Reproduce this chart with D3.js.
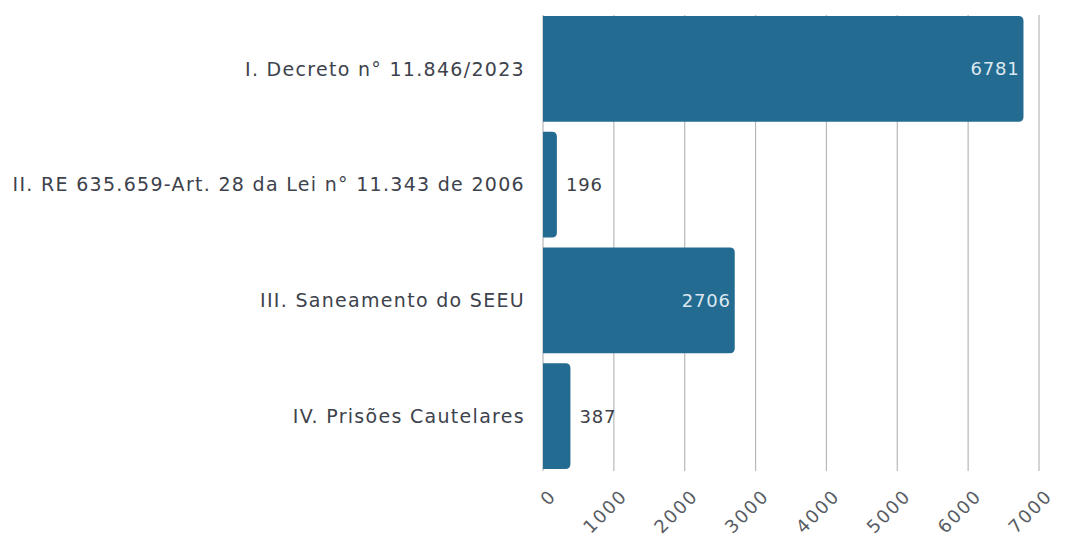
<!DOCTYPE html>
<html>
<head>
<meta charset="utf-8">
<script src="https://cdn.jsdelivr.net/npm/d3@7"></script>
<style>
  body { margin: 0; background: #fff; }
  text { font-family: "DejaVu Sans", "Noto Sans", sans-serif; }
</style>
</head>
<body>
<svg></svg>
<script>
// DATA
const categories = [
    "I. Decreto n° 11.846/2023",
    "II. RE 635.659-Art. 28 da Lei n° 11.343 de 2006",
    "III. Saneamento do SEEU",
    "IV. Prisões Cautelares"
];
const values = [6781, 196, 2706, 387];
const tickValues = [0, 1000, 2000, 3000, 4000, 5000, 6000, 7000];

// LAYOUT PARAMETERS
const WIDTH = 1065;
const HEIGHT = 538;
const PLOT = {left: 543, right: 1039, top: 16, bottom: 469};
const BAR_COLOR = "#246b91";
const GRID_COLOR = "#b8b8b8";
const INSIDE_MIN = 1000; // values above this get label inside bar

const svg = d3.select('svg')
    .attr('width', WIDTH)
    .attr('height', HEIGHT);

const x = d3.scaleLinear().domain([0, 7000]).range([PLOT.left, PLOT.right]);
const y = d3.scaleBand().domain(categories).range([PLOT.top, PLOT.bottom])
    .paddingInner(0.085).paddingOuter(0);

// gridlines
svg.append('g')
    .selectAll('line')
    .data(tickValues)
    .enter()
    .append('line')
    .attr('x1', d => x(d)).attr('x2', d => x(d))
    .attr('y1', PLOT.top - 1).attr('y2', PLOT.bottom + 2)
    .attr('stroke', GRID_COLOR)
    .attr('stroke-width', 1.2);

// x axis labels, rotated
const xAxis = d3.axisBottom(x).tickValues(tickValues).tickFormat(d3.format('d')).tickSize(0).tickPadding(0);
const gx = svg.append('g')
    .attr('transform', `translate(0,${PLOT.bottom})`)
    .call(xAxis);
gx.select('.domain').remove();
gx.selectAll('text')
    .attr('fill', '#585c64')
    .style('font-size', '18px')
    .style('letter-spacing', '1.8px')
    .attr('text-anchor', 'end')
    .attr('x', 0).attr('y', 0).attr('dy', 0)
    .attr('transform', 'translate(14,28) rotate(-45)');

// bars with rounded right end
function barPath(d, i) {
    const x0 = x(0), x1 = x(d), y0 = y(categories[i]), h = y.bandwidth();
    const r = Math.min(5, x1 - x0);
    return `M${x0},${y0}H${x1 - r}Q${x1},${y0} ${x1},${y0 + r}V${y0 + h - r}Q${x1},${y0 + h} ${x1 - r},${y0 + h}H${x0}Z`;
}

svg.append('g')
    .selectAll('path')
    .data(values)
    .enter()
    .append('path')
    .attr('d', barPath)
    .attr('fill', BAR_COLOR);

// value labels
svg.append('g')
    .selectAll('text')
    .data(values)
    .enter()
    .append('text')
    .text(d => d)
    .attr('x', d => d > INSIDE_MIN ? x(d) - 4 : x(d) + 9)
    .attr('y', (d, i) => y(categories[i]) + y.bandwidth() / 2)
    .attr('dy', '0.36em')
    .attr('text-anchor', d => d > INSIDE_MIN ? 'end' : 'start')
    .attr('fill', d => d > INSIDE_MIN ? '#dce8ef' : '#3d414a')
    .style('font-size', '18px')
    .style('letter-spacing', '0.8px');

// category labels
svg.append('g')
    .selectAll('text')
    .data(categories)
    .enter()
    .append('text')
    .text(d => d)
    .attr('x', 525)
    .attr('y', d => y(d) + y.bandwidth() / 2)
    .attr('dy', '0.36em')
    .attr('text-anchor', 'end')
    .attr('fill', '#3d424c')
    .style('font-size', '19px')
    .style('letter-spacing', '1.3px');
</script>
</body>
</html>
